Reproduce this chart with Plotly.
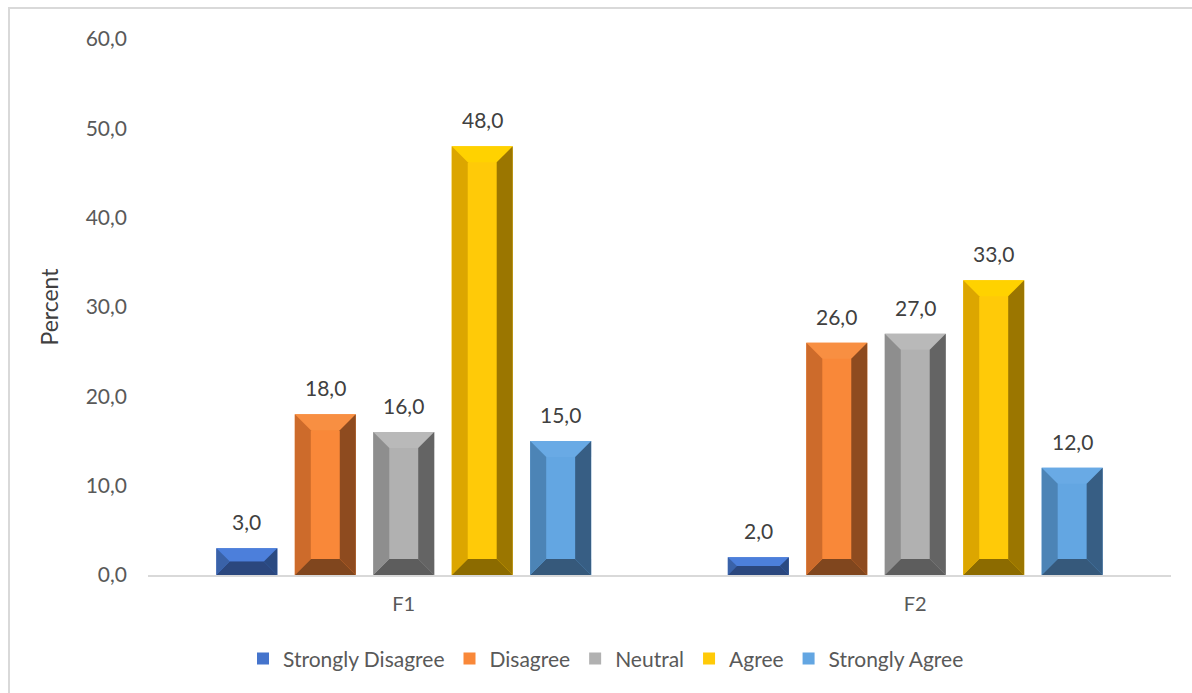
import plotly.graph_objects as go

# Survey responses (percent) for two items
categories = ["F1", "F2"]
series_names = ["Strongly Disagree", "Disagree", "Neutral", "Agree", "Strongly Agree"]
values_f1 = [3.0, 18.0, 16.0, 48.0, 15.0]
values_f2 = [2.0, 26.0, 27.0, 33.0, 12.0]
y_ticks = [0, 10, 20, 30, 40, 50, 60]

# Bevel palette per series: face, top, left, right, bottom
palette = {
    "Strongly Disagree": ("#4574CC", "#4C7FDB", "#3A62A8", "#2A4A82", "#2B477E"),
    "Disagree": ("#F98839", "#F88F42", "#CD6B2B", "#8E4B1F", "#80461E"),
    "Neutral": ("#B1B1B1", "#B9B9B9", "#8E8E8E", "#646464", "#5D5D5D"),
    "Agree": ("#FFCA08", "#FFD200", "#DCA600", "#9B7600", "#8C6B00"),
    "Strongly Agree": ("#63A6E2", "#69AAE5", "#4C84B6", "#375E84", "#36597B"),
}

FONT = "Lato, Liberation Sans, sans-serif"
W, H = 1192, 693
M_L, M_R, M_T, M_B = 148, 21, 39, 118
plot_w = W - M_L - M_R
plot_h = H - M_T - M_B
x_range = [-0.5, 1.5]
y_range = [0, 60]
px_per_x = plot_w / (x_range[1] - x_range[0])
px_per_y = plot_h / (y_range[1] - y_range[0])

BARGAP = 0.233
BARGROUPGAP = 0.223
BEVEL_PX = 16

n = len(series_names)
slot = (1 - BARGAP) / n
bar_w = slot * (1 - BARGROUPGAP)

fig = go.Figure()
shapes = []
annotations = []

for i, name in enumerate(series_names):
    face, top_c, left_c, right_c, bottom_c = palette[name]
    vals = [values_f1[i], values_f2[i]]
    fig.add_trace(go.Bar(
        name=name, x=categories, y=vals,
        marker=dict(color=face, line=dict(width=0)),
        hoverinfo="x+y+name",
    ))
    for c, v in enumerate(vals):
        cx = c - (1 - BARGAP) / 2 + slot * (i + 0.5)
        x0, x1 = cx - bar_w / 2, cx + bar_w / 2
        h_px = v * px_per_y
        b_px = min(BEVEL_PX, h_px / 2, bar_w * px_per_x / 2)
        bx = b_px / px_per_x
        by = b_px / px_per_y
        faces = [
            (top_c, [(x0, v), (x1, v), (x1 - bx, v - by), (x0 + bx, v - by)]),
            (bottom_c, [(x0, 0), (x1, 0), (x1 - bx, by), (x0 + bx, by)]),
            (left_c, [(x0, 0), (x0, v), (x0 + bx, v - by), (x0 + bx, by)]),
            (right_c, [(x1, 0), (x1, v), (x1 - bx, v - by), (x1 - bx, by)]),
        ]
        for col, pts in faces:
            path = "M " + " L ".join(f"{px},{py}" for px, py in pts) + " Z"
            shapes.append(dict(type="path", xref="x", yref="y", path=path,
                               fillcolor=col, line=dict(width=0), layer="above"))
        annotations.append(dict(
            x=cx, y=v, xref="x", yref="y", text=f"{v:.1f}".replace(".", ","),
            showarrow=False, yanchor="bottom", yshift=12,
            font=dict(family=FONT, size=21, color="#404040"),
        ))

# Chart-area frame
shapes.append(dict(
    type="rect", xref="paper", yref="paper",
    x0=(9 - M_L) / plot_w, x1=1.2,
    y0=-0.5, y1=1 + (M_T - 8) / plot_h,
    line=dict(color="#D9D9D9", width=2), fillcolor="rgba(0,0,0,0)", layer="below",
))

fig.update_layout(
    width=W, height=H,
    margin=dict(l=M_L, r=M_R, t=M_T, b=M_B),
    paper_bgcolor="white", plot_bgcolor="white",
    barmode="group", bargap=BARGAP, bargroupgap=BARGROUPGAP,
    separators=",.",
    font=dict(family=FONT, color="#595959", size=20),
    shapes=shapes, annotations=annotations,
    showlegend=True,
    legend=dict(orientation="h", x=(606 - M_L) / plot_w, xanchor="center",
                y=-0.118, yanchor="top",
                font=dict(family=FONT, size=21, color="#595959"), itemwidth=30,
                traceorder="normal"),
    xaxis=dict(range=x_range, showgrid=False, showline=True, linecolor="#D9D9D9",
               linewidth=1.5, ticks="", tickfont=dict(size=20, color="#595959"),
               ticklabelstandoff=10, zeroline=False),
    yaxis=dict(range=y_range, tickvals=y_ticks, tickformat=".1f", showgrid=False,
               showline=False, zeroline=False, ticks="",
               tickfont=dict(size=21, color="#595959"), ticklabelstandoff=20,
               title=dict(text="Percent", font=dict(size=23, color="#404040"), standoff=20)),
)

fig.write_html("out.html")
